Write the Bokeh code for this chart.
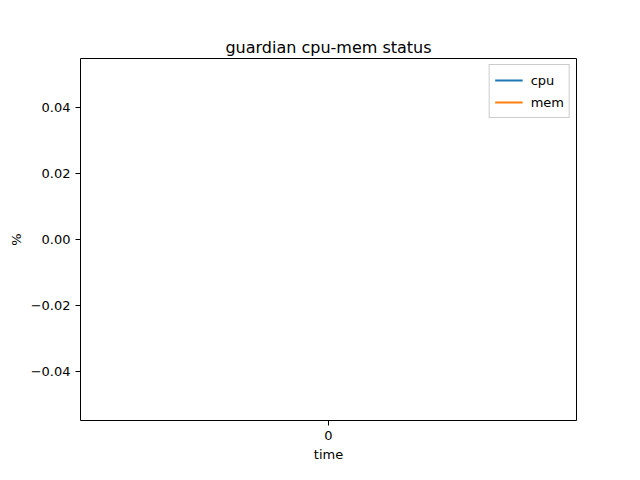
from bokeh.plotting import figure
from bokeh.models import FixedTicker, CustomJSTickFormatter, Legend, LegendItem, Range1d
from bokeh.embed import file_html
from bokeh.resources import INLINE

time = [0]
cpu = [0]
mem = [0]
x_ticks = [0]
y_ticks = [-0.04, -0.02, 0.0, 0.02, 0.04]

p = figure(width=624, height=464, output_backend="svg", toolbar_location=None,
           x_range=Range1d(-0.055, 0.055), y_range=Range1d(-0.055, 0.055),
           min_border_left=80, min_border_right=48, min_border_top=58, min_border_bottom=38)
p.title.text = "guardian cpu-mem status"
p.title.align = "center"
p.title.text_font = "DejaVu Sans"
p.title.text_font_style = "normal"
p.title.text_font_size = "16px"
p.title.text_color = "black"
p.title.standoff = 4
p.grid.visible = False
p.outline_line_color = "black"
p.outline_line_width = 1

r1 = p.line(time, cpu, line_color="#1f77b4", line_width=2)
r2 = p.line(time, mem, line_color="#ff7f0e", line_width=2)

p.xaxis.ticker = FixedTicker(ticks=x_ticks)
p.yaxis.ticker = FixedTicker(ticks=y_ticks)
p.yaxis.formatter = CustomJSTickFormatter(code="return tick.toFixed(2).replace('-', '\u2212');")
p.xaxis.axis_label = "time"
p.yaxis.axis_label = "%"
for ax in (p.xaxis, p.yaxis):
    ax.axis_label_text_font = "DejaVu Sans"
    ax.axis_label_text_font_style = "normal"
    ax.axis_label_text_font_size = "13px"
    ax.axis_label_text_color = "black"
    ax.axis_label_standoff = 4
    ax.major_label_text_font = "DejaVu Sans"
    ax.major_label_text_font_size = "13px"
    ax.minor_tick_line_color = None
    ax.major_tick_out = 5
    ax.major_tick_in = 0
    ax.axis_line_color = None
    ax.major_label_text_color = "black"

legend = Legend(items=[LegendItem(label="cpu", renderers=[r1]), LegendItem(label="mem", renderers=[r2])],
                location="top_right", label_text_font="DejaVu Sans", label_text_font_size="13px",
                label_text_color="black", margin=6,
                border_line_color="#cccccc", border_line_alpha=1, spacing=2, padding=5,
                glyph_width=28, label_standoff=8)
p.add_layout(legend)

open("out.html", "w").write(file_html(p, INLINE))
